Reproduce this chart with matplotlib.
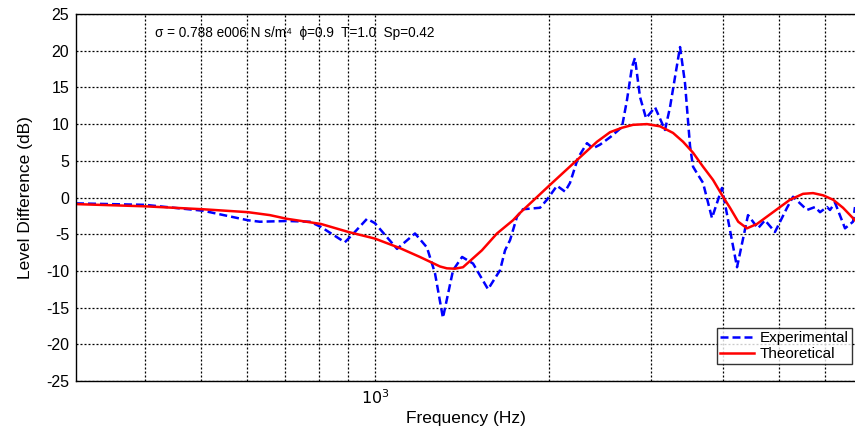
import numpy as np
import matplotlib
matplotlib.use("Agg")
import matplotlib.pyplot as plt
from matplotlib.ticker import FixedLocator, NullFormatter, FixedFormatter

plt.rcParams['font.family'] = ['Liberation Sans', 'DejaVu Sans']
plt.rcParams['axes.unicode_minus'] = False

# ---------------- Data ----------------
exp_freq = [304, 400, 504, 603, 632, 704, 772, 806, 887, 913, 969, 1000,
            1092, 1173, 1230, 1270, 1311, 1365, 1415, 1478, 1569, 1646,
            1679, 1713, 1761, 1803, 1930, 1984, 2065, 2132, 2175, 2245,
            2327, 2383, 2451, 2560, 2675, 2729, 2784, 2817, 2874, 2944,
            3051, 3175, 3239, 3304, 3371, 3438, 3508, 3550, 3607, 3694,
            3828, 3984, 4230, 4419, 4598, 4728, 4920, 5162, 5287, 5590,
            5770, 5887, 6053, 6126, 6249, 6503, 6714, 6767]
exp_db = [-0.8, -1.0, -1.8, -3.1, -3.3, -3.2, -3.3, -4.0, -6.1, -5.1, -2.9, -3.5,
          -7.0, -4.9, -6.8, -10.3, -16.4, -9.9, -8.1, -9.0, -12.5, -9.9,
          -7.2, -5.8, -2.6, -1.6, -1.4, -0.3, 1.6, 0.8, 2.0, 5.4,
          7.4, 6.7, 7.2, 8.3, 9.6, 13.3, 17.8, 19.0, 13.7, 10.8,
          12.3, 9.2, 12.3, 16.4, 20.5, 15.6, 7.0, 4.2, 3.3, 2.0,
          -2.8, 1.3, -9.5, -2.4, -4.2, -3.1, -4.7, -1.4, 0.1, -1.7,
          -1.3, -2.0, -1.3, -1.7, -0.7, -4.2, -3.3, -1.3]

theo_freq = [304, 400, 504, 603, 658, 704, 806, 900, 1000, 1105, 1196, 1296,
             1332, 1375, 1420, 1531, 1626, 1733, 1782, 2007, 2236, 2422,
             2551, 2675, 2795, 2955, 3112, 3278, 3411, 3550, 3694, 3844,
             4000, 4113, 4163, 4250, 4401, 4580, 4882, 5224, 5502, 5726,
             5959, 6200, 6452, 6767]
theo_db = [-0.9, -1.2, -1.6, -2.0, -2.4, -2.9, -3.6, -4.7, -5.6, -6.9, -8.1, -9.4,
           -9.65, -9.7, -9.5, -7.2, -4.9, -3.1, -2.1, 1.7, 5.1, 7.6,
           8.9, 9.5, 9.9, 10.0, 9.7, 8.8, 7.6, 6.1, 4.2, 2.4,
           0.1, -1.4, -2.1, -3.3, -4.2, -3.6, -2.0, -0.3, 0.5, 0.6,
           0.3, -0.3, -1.4, -3.1]

y_ticks = [-25, -20, -15, -10, -5, 0, 5, 10, 15, 20, 25]
minor_x = [400, 500, 600, 700, 800, 900, 2000, 3000, 4000, 5000, 6000]

annotation = "\u03c3 = 0.788 e006 N s/m\u2074  \u03d5=0.9  T=1.0  Sp=0.42"

# ---------------- Plot ----------------
fig = plt.figure(figsize=(8.55, 4.33), dpi=100)
ax = fig.add_axes([76 / 855, 52 / 433, 1 - 76 / 855, 367 / 433])

ax.plot(exp_freq, exp_db, color='#0000ff', linestyle=(0, (3.2, 1.6)),
        linewidth=1.8, label='Experimental')
ax.plot(theo_freq, theo_db, color='#ff0000', linewidth=1.8, label='Theoretical')

ax.set_xscale('log')
ax.set_xlim(304, 6767)
ax.set_ylim(-25, 25)

ax.xaxis.set_major_locator(FixedLocator([1000]))
ax.xaxis.set_major_formatter(FixedFormatter([r"$10^3$"]))
ax.xaxis.set_minor_locator(FixedLocator(minor_x))
ax.xaxis.set_minor_formatter(NullFormatter())
ax.set_yticks(y_ticks)

ax.tick_params(which='both', length=0, labelsize=11.5, pad=5)
ax.grid(True, which='both', color='black', linestyle=(0, (1.6, 1.6)),
        linewidth=0.9)
ax.set_axisbelow(True)

ax.spines['right'].set_visible(False)
for s in ['left', 'bottom', 'top']:
    ax.spines[s].set_linewidth(1.0)

ax.set_xlabel("Frequency (Hz)", fontsize=12.5, labelpad=3)
ax.set_ylabel("Level Difference (dB)", fontsize=12.5, labelpad=9)

fig.text(155 / 855, 1 - 33 / 433, annotation, fontsize=9.8, va='center', ha='left')

leg = ax.legend(loc='lower right', fontsize=11, frameon=True, fancybox=False,
                handlelength=2.2, borderpad=0.2, labelspacing=0.1,
                handletextpad=0.4, borderaxespad=0,
                bbox_to_anchor=(852 / 855, 69 / 433),
                bbox_transform=fig.transFigure)
leg.get_frame().set_edgecolor('black')
leg.get_frame().set_linewidth(1.0)

fig.savefig("out.png", dpi=100)
